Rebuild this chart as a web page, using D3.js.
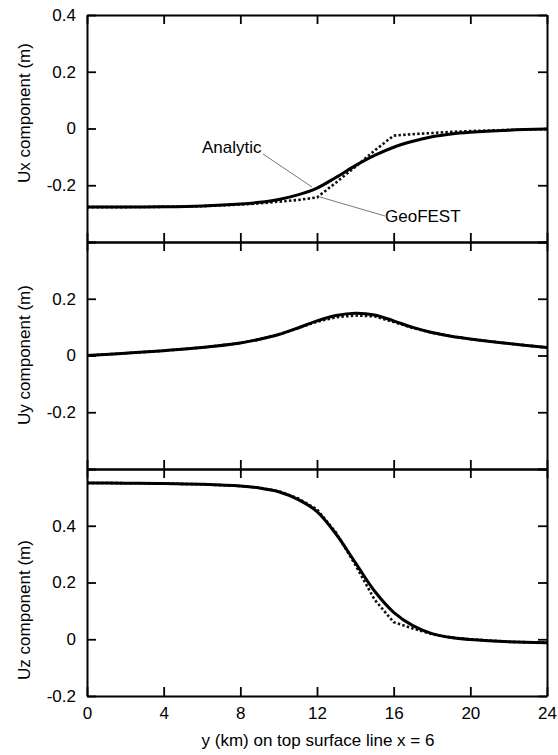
<!DOCTYPE html>
<html>
<head>
<meta charset="utf-8">
<script src="https://cdn.jsdelivr.net/npm/d3@7"></script>
<style>
  body { margin: 0; background: #fff; }
  text { font-family: "Liberation Sans", Arial, sans-serif; }
</style>
</head>
<body>
<div id="chart"></div>
<script>
// distance along the surface line (km)
const distanceKm = [0, 2, 4, 6, 8, 9, 10, 11, 12, 13, 14, 15, 16, 17, 18, 19, 20, 22, 24];

// Ux
const uxAnalytic = [-0.277, -0.277, -0.276, -0.273, -0.266, -0.26, -0.25, -0.234, -0.21, -0.172, -0.131, -0.095, -0.066, -0.045, -0.029, -0.019, -0.013, -0.006, -0.002];
const uxGeofest  = [-0.277, -0.277, -0.276, -0.274, -0.268, -0.264, -0.258, -0.252, -0.243, -0.19, -0.135, -0.078, -0.025, -0.02, -0.016, -0.012, -0.009, -0.005, -0.002];

// Uy
const uyAnalytic = [0, 0.008, 0.017, 0.028, 0.044, 0.057, 0.074, 0.097, 0.122, 0.141, 0.149, 0.143, 0.122, 0.099, 0.081, 0.068, 0.058, 0.042, 0.028];
const uyGeofest  = [0, 0.008, 0.017, 0.028, 0.044, 0.057, 0.074, 0.096, 0.119, 0.135, 0.141, 0.138, 0.118, 0.097, 0.08, 0.068, 0.058, 0.042, 0.028];

// Uz
const uzAnalytic = [0.551, 0.55, 0.549, 0.546, 0.54, 0.533, 0.52, 0.493, 0.45, 0.37, 0.27, 0.17, 0.095, 0.048, 0.02, 0.006, -0.001, -0.009, -0.012];
const uzGeofest  = [0.551, 0.55, 0.549, 0.546, 0.54, 0.534, 0.522, 0.497, 0.458, 0.375, 0.262, 0.14, 0.06, 0.038, 0.018, 0.006, 0, -0.009, -0.012];

const xTicks = [0, 4, 8, 12, 16, 20, 24];
const panelTitles = ["Ux component (m)", "Uy component (m)", "Uz component (m)"];
const panelDomains = [[-0.4, 0.4], [-0.4, 0.4], [-0.2, 0.6]];
const panelTicks = [[-0.4, -0.2, 0, 0.2, 0.4], [-0.4, -0.2, 0, 0.2, 0.4], [-0.2, 0, 0.2, 0.4, 0.6]];
const panelLabels = [[-0.2, 0, 0.2, 0.4], [-0.2, 0, 0.2], [-0.2, 0, 0.2, 0.4]];
const titleCenters = [113, 355, 610];

const width = 558, height = 755;
const left = 87, right = 547;
const panelTop = [15, 242, 469];
const panelH = 227;

const svg = d3.select("#chart").append("svg")
    .attr("width", width)
    .attr("height", height);

const x = d3.scaleLinear().domain([0, 24]).range([left, right]);

const series = [
  [uxAnalytic, uxGeofest],
  [uyAnalytic, uyGeofest],
  [uzAnalytic, uzGeofest]
];

const fmt = d => d === 0 ? "0" : String(d);

series.forEach((s, i) => {
  const top = panelTop[i];
  const y = d3.scaleLinear().domain(panelDomains[i]).range([top + panelH, top]);
  const g = svg.append("g");

  const line = d3.line()
      .x((d, j) => x(distanceKm[j]))
      .y(d => y(d));

  // GeoFEST (dotted)
  g.append("path")
      .datum(s[1])
      .attr("fill", "none")
      .attr("stroke", "#111")
      .attr("stroke-width", 2.6)
      .attr("stroke-dasharray", "2.5,2.2")
      .attr("d", line.curve(d3.curveLinear));

  // Analytic (solid)
  g.append("path")
      .datum(s[0])
      .attr("fill", "none")
      .attr("stroke", "#000")
      .attr("stroke-width", 3)
      .attr("d", line.curve(d3.curveCatmullRom.alpha(0.5)));

  // axes, ticks pointing inward
  const lab = panelLabels[i];
  g.append("g")
      .attr("transform", `translate(${left},0)`)
      .call(d3.axisLeft(y).tickValues(panelTicks[i]).tickSize(-9).tickSizeOuter(0).tickPadding(11)
        .tickFormat(d => lab.includes(d) ? fmt(d) : ""));
  g.append("g")
      .attr("transform", `translate(${right},0)`)
      .call(d3.axisRight(y).tickValues(panelTicks[i]).tickSize(-9).tickSizeOuter(0).tickFormat(""));
  g.append("g")
      .attr("transform", `translate(0,${top})`)
      .call(d3.axisTop(x).tickValues(xTicks).tickSize(-9).tickSizeOuter(0).tickFormat(""));
  g.append("g")
      .attr("transform", `translate(0,${top + panelH})`)
      .call(d3.axisBottom(x).tickValues(xTicks).tickSize(-9).tickSizeOuter(0).tickPadding(11)
        .tickFormat(i === 2 ? fmt : ""));

  g.append("text")
      .attr("transform", `translate(30,${titleCenters[i]}) rotate(-90)`)
      .attr("text-anchor", "middle")
      .attr("font-size", 17)
      .text(panelTitles[i]);
});

svg.selectAll(".domain").attr("stroke", "#000").attr("stroke-width", 2);
svg.selectAll(".tick line").attr("stroke", "#000").attr("stroke-width", 1.8);
svg.selectAll(".tick text").attr("font-size", 17).attr("fill", "#000")
    .attr("font-family", "Liberation Sans, Arial, sans-serif");

// annotations
svg.append("line").attr("x1", 263).attr("y1", 154).attr("x2", 312).attr("y2", 187)
    .attr("stroke", "#555").attr("stroke-width", 0.8);
svg.append("line").attr("x1", 320).attr("y1", 197).attr("x2", 385).attr("y2", 216)
    .attr("stroke", "#555").attr("stroke-width", 0.8);
svg.append("text").attr("x", 202).attr("y", 153).attr("font-size", 17).text("Analytic");
svg.append("text").attr("x", 385).attr("y", 222).attr("font-size", 17).text("GeoFEST");

svg.append("text")
    .attr("x", 318).attr("y", 746)
    .attr("text-anchor", "middle")
    .attr("font-size", 17)
    .text("y (km) on top surface line x = 6");
</script>
</body>
</html>
